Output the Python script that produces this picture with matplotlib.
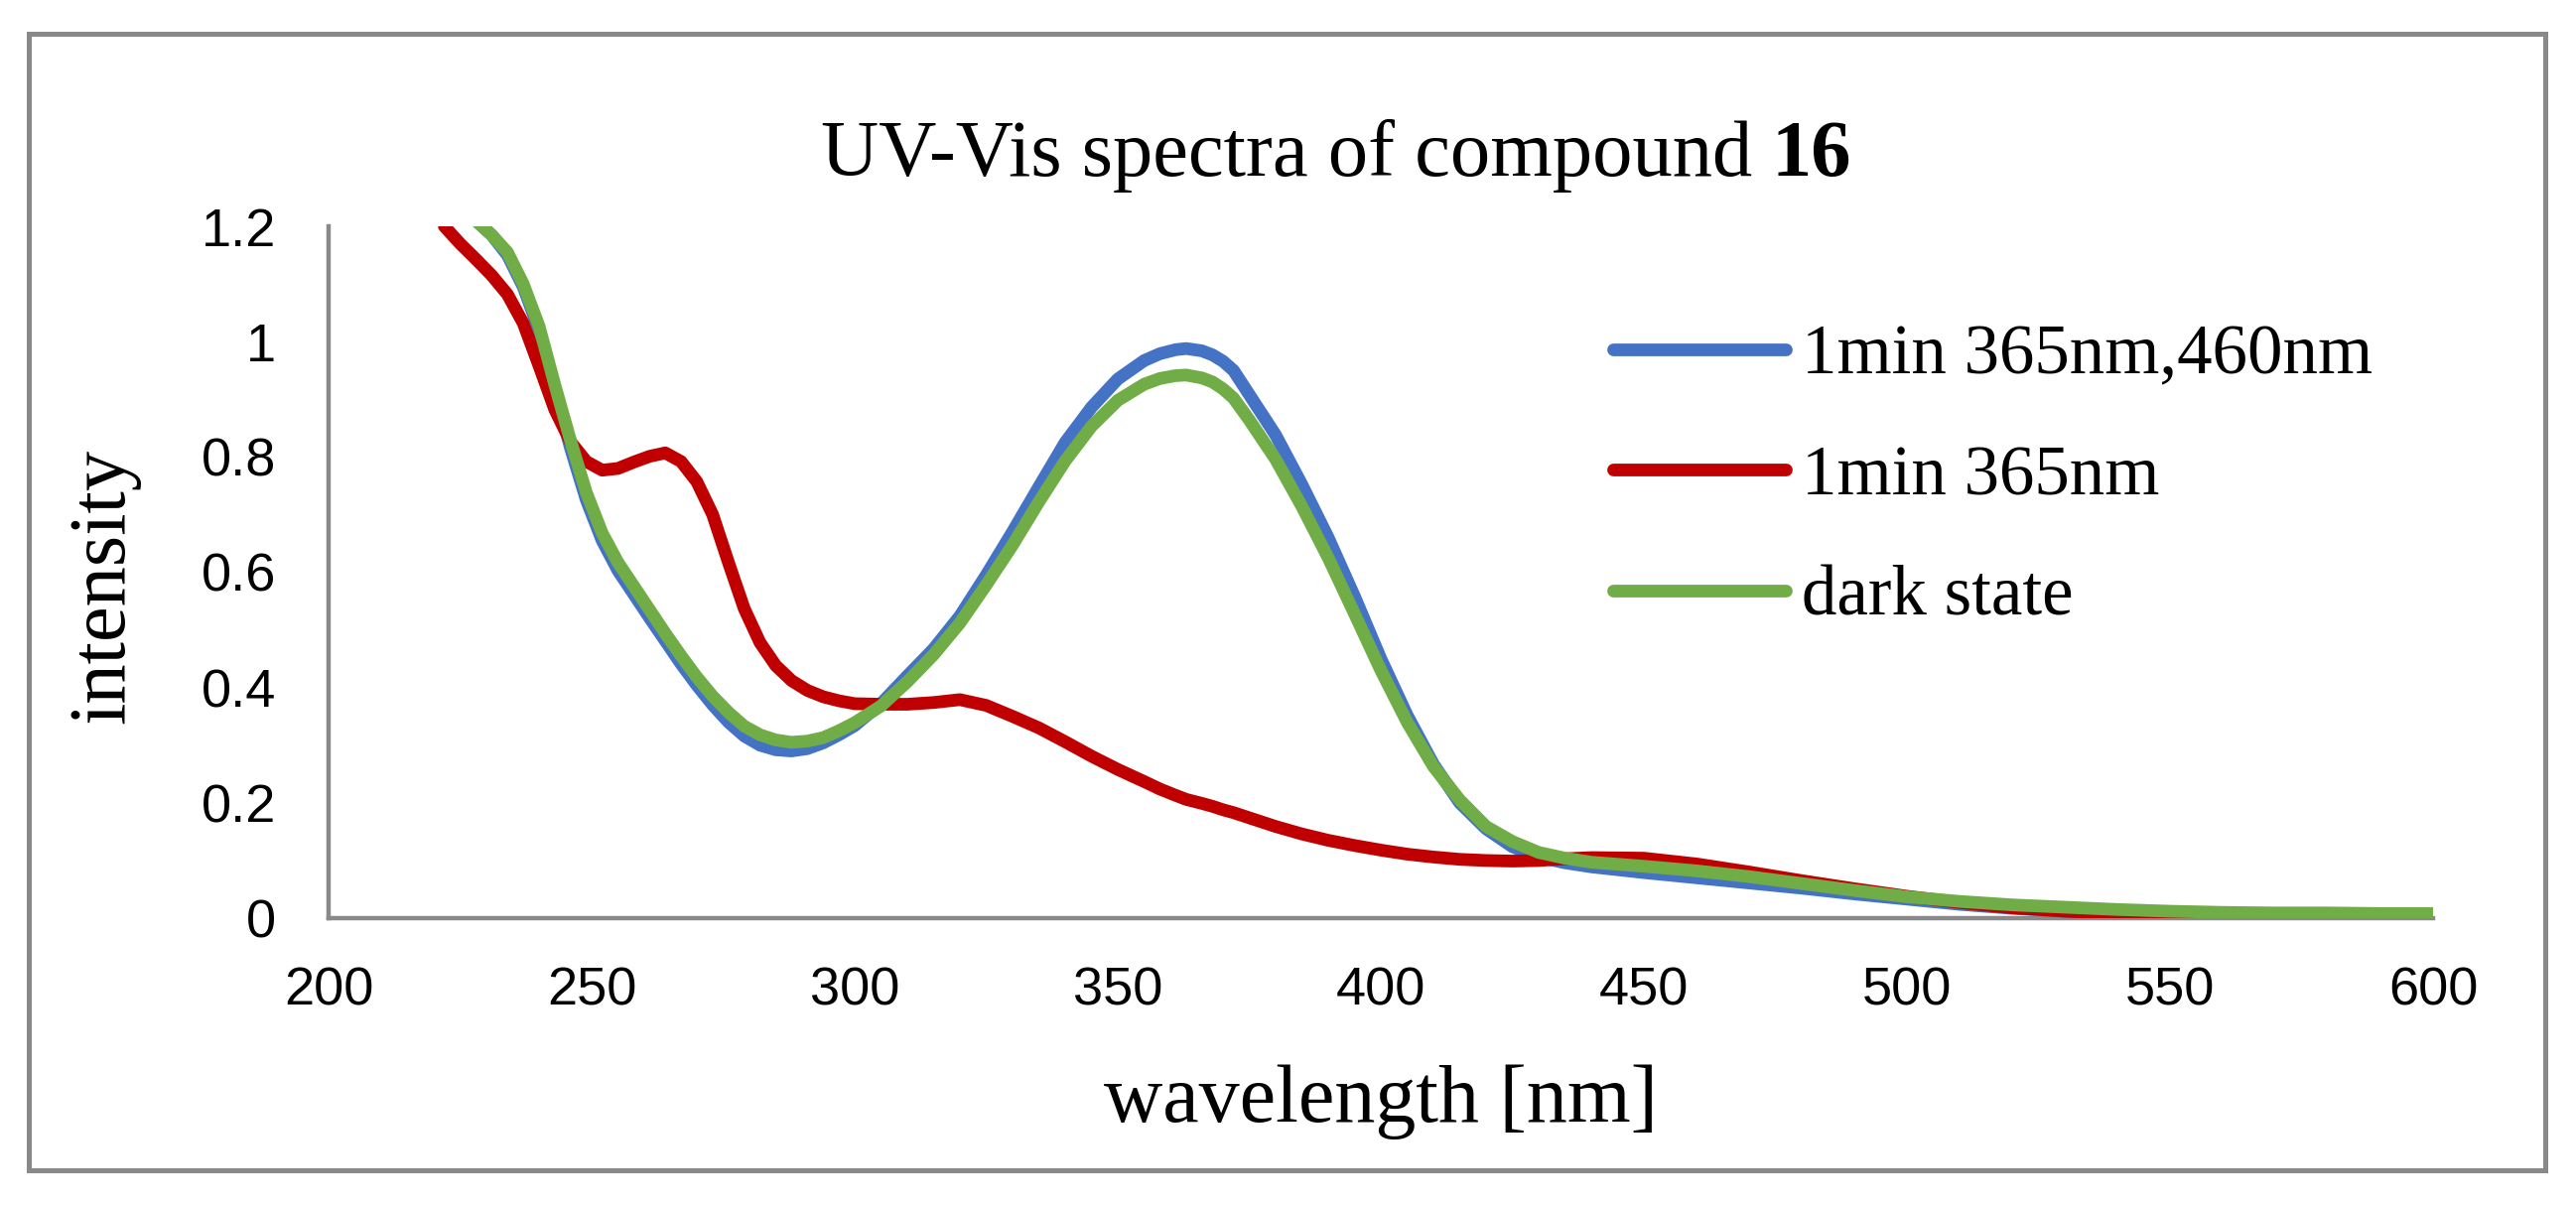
import matplotlib.pyplot as plt
from matplotlib.patches import Rectangle

# wavelength grid [nm] and the three spectra
wavelength = [222, 225, 228, 231, 234, 237, 240, 243, 246, 249, 252, 255, 258,
              261, 264, 267, 270, 273, 276, 279, 282, 285, 288, 291, 294, 297,
              300, 305, 310, 315, 320, 325, 330, 335, 340, 345, 350, 355, 358,
              361, 363, 366, 368, 370, 372, 375, 380, 385, 390, 395, 400, 405,
              410, 415, 420, 425, 430, 435, 440, 450, 460, 470, 480, 490, 500,
              510, 520, 530, 540, 550, 560, 570, 580, 590, 600]

irr_365_460 = [1.25, 1.23, 1.21, 1.185, 1.15, 1.095, 1.020, 0.915, 0.815,
               0.725, 0.655, 0.603, 0.562, 0.521, 0.481, 0.441, 0.404, 0.370,
               0.340, 0.316, 0.300, 0.292, 0.290, 0.294, 0.304, 0.318, 0.334,
               0.372, 0.420, 0.467, 0.524, 0.595, 0.670, 0.748, 0.825, 0.886,
               0.935, 0.967, 0.979, 0.986, 0.988, 0.984, 0.977, 0.966, 0.950,
               0.908, 0.838, 0.752, 0.660, 0.558, 0.450, 0.352, 0.267, 0.200,
               0.155, 0.124, 0.106, 0.096, 0.089, 0.079, 0.070, 0.061, 0.052,
               0.042, 0.033, 0.024, 0.017, 0.012, 0.008, 0.006, 0.005, 0.004,
               0.003, 0.003, 0.003]

irr_365 = [1.20, 1.170, 1.143, 1.115, 1.082, 1.032, 0.958, 0.882, 0.826,
           0.792, 0.777, 0.780, 0.791, 0.801, 0.807, 0.792, 0.757, 0.700,
           0.617, 0.537, 0.478, 0.438, 0.412, 0.395, 0.384, 0.377, 0.372,
           0.371, 0.371, 0.374, 0.379, 0.369, 0.350, 0.330, 0.306, 0.281,
           0.258, 0.237, 0.224, 0.213, 0.206, 0.199, 0.194, 0.188, 0.183,
           0.174, 0.159, 0.146, 0.135, 0.126, 0.118, 0.111, 0.106, 0.102,
           0.100, 0.099, 0.100, 0.103, 0.105, 0.104, 0.094, 0.080, 0.065,
           0.051, 0.038, 0.027, 0.018, 0.012, 0.008, 0.006, 0.004, 0.003,
           0.002, 0.002, 0.002]

dark_state = [1.25, 1.23, 1.21, 1.185, 1.155, 1.100, 1.027, 0.925, 0.828,
              0.738, 0.668, 0.617, 0.576, 0.535, 0.494, 0.455, 0.418, 0.385,
              0.357, 0.333, 0.318, 0.309, 0.305, 0.307, 0.313, 0.325, 0.339,
              0.368, 0.410, 0.457, 0.512, 0.578, 0.647, 0.722, 0.793, 0.853,
              0.898, 0.926, 0.936, 0.941, 0.942, 0.937, 0.930, 0.918, 0.902,
              0.864, 0.796, 0.714, 0.625, 0.528, 0.430, 0.340, 0.263, 0.205,
              0.159, 0.133, 0.114, 0.104, 0.097, 0.090, 0.082, 0.072, 0.060,
              0.048, 0.037, 0.029, 0.023, 0.019, 0.015, 0.012, 0.010, 0.009,
              0.009, 0.008, 0.008]

series = [('1min 365nm,460nm', irr_365_460, '#4472C4'),
          ('1min 365nm', irr_365, '#C00000'),
          ('dark state', dark_state, '#70AD47')]

serif = 'Liberation Serif'
sans = 'Liberation Sans'
axis_grey = '#898989'

W, H = 2595, 1214
fig = plt.figure(figsize=(W / 100, H / 100), dpi=100)
ax = fig.add_axes([331 / W, 1 - 925 / H, 2120 / W, 697 / H])

for label, values, color in series:
    ax.plot(wavelength, values, color=color, linewidth=9.2, label=label,
            solid_capstyle='round', solid_joinstyle='round')

ax.set_xlim(200, 600)
ax.set_ylim(0, 1.2)
ax.set_xticks([200, 250, 300, 350, 400, 450, 500, 550, 600])
ax.set_yticks([0, 0.2, 0.4, 0.6, 0.8, 1.0, 1.2])
ax.set_yticklabels(['0', '0.2', '0.4', '0.6', '0.8', '1', '1.2'])
ax.tick_params(axis='both', length=0, labelsize=39)
ax.tick_params(axis='x', pad=35)
ax.tick_params(axis='y', pad=38)
for lab in ax.get_xticklabels() + ax.get_yticklabels():
    lab.set_fontfamily(sans)

for side in ['top', 'right']:
    ax.spines[side].set_visible(False)
for side in ['left', 'bottom']:
    ax.spines[side].set_color(axis_grey)
    ax.spines[side].set_linewidth(3.2)
    ax.spines[side].set_zorder(0.5)

ax.set_xlabel('wavelength [nm]', fontsize=59, fontfamily=serif, va='baseline')
ax.xaxis.set_label_coords(0.5, (925 - 1130) / 697)
ax.set_ylabel('intensity', fontsize=58, fontfamily=serif, va='baseline',
              rotation_mode='anchor')
ax.yaxis.set_label_coords((124 - 331) / 2120, (925 - 590) / 697)

leg = ax.legend(loc='upper left', bbox_to_anchor=(1590 / W, 1 - 291 / H),
                bbox_transform=fig.transFigure, frameon=False,
                prop={'family': serif, 'size': 51}, handlelength=2.45,
                handletextpad=0.22, labelspacing=0.8, borderpad=0)

# title: regular text followed by bold compound number, centred together
fig.canvas.draw()
renderer = fig.canvas.get_renderer()
t1 = fig.text(0, 1 - 177 / H, 'UV-Vis spectra of compound ', fontsize=58,
              fontfamily=serif, va='baseline', ha='left')
t2 = fig.text(0, 1 - 177 / H, '16', fontsize=58, fontfamily=serif,
              fontweight='bold', va='baseline', ha='left')
w1 = t1.get_window_extent(renderer).width
w2 = t2.get_window_extent(renderer).width
x0 = 1346 - (w1 + w2) / 2
t1.set_x(x0 / W)
t2.set_x((x0 + w1) / W)

# outer chart border
fig.patches.append(Rectangle((29 / W, 1 - 1179 / H), (2564 - 29) / W,
                             (1179 - 34) / H, transform=fig.transFigure,
                             fill=False, edgecolor=axis_grey, linewidth=3.6))

fig.savefig('out.png', dpi=100)
